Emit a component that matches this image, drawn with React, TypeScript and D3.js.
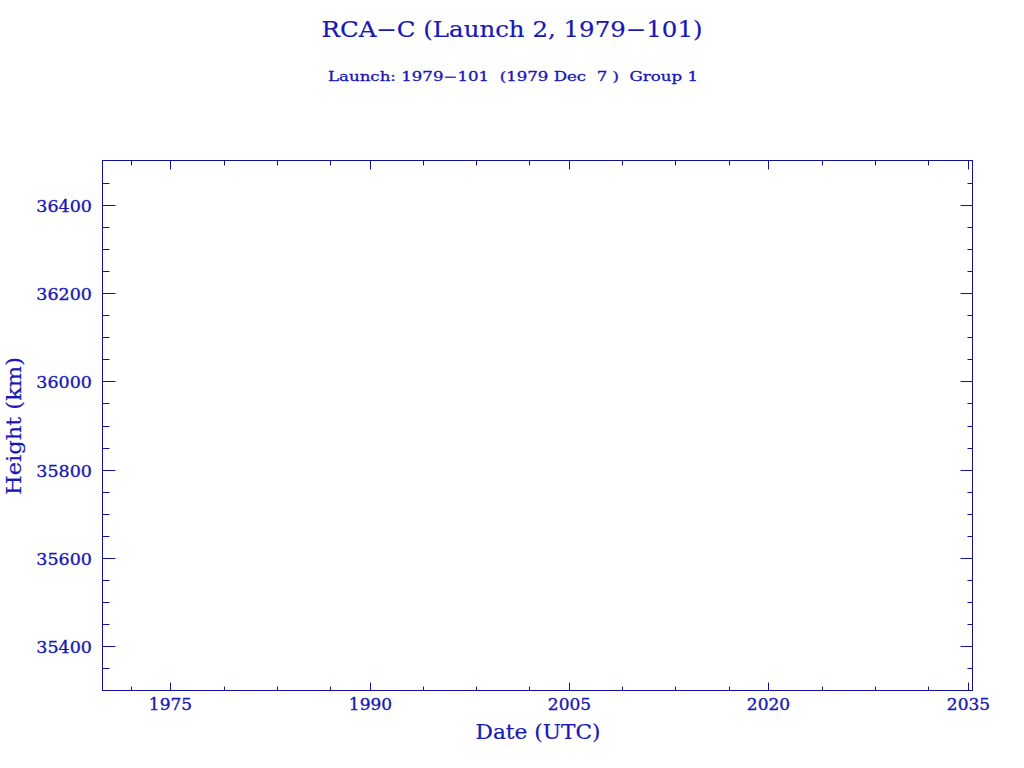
import React from "react";
import * as d3 from "d3";

const title = "RCA\u2212C (Launch 2, 1979\u2212101)";
const subtitle = "Launch: 1979\u2212101  (1979 Dec  7 )  Group 1";
const xLabel = "Date (UTC)";
const yLabel = "Height (km)";

const xDomain = [1969.89, 2035.35];
const yDomain = [35300, 36500];
const xMajorTicks = [1975, 1990, 2005, 2020, 2035];
const xMinorOffsets = [4, 8, 12];
const yMajorTicks = [35400, 35600, 35800, 36000, 36200, 36400];
const yMinorStep = 50;
// No orbital height data points are plotted in the reference.
const heightData: { year: number; height: number }[] = [];

const W = 1024;
const H = 768;
const L = 102.5;
const R = 972.5;
const T = 160.5;
const B = 690.5;
const lineColor = "#11119c";
const textColor = "#1818b4";
const font = "'DejaVu Serif', serif";

export default function App() {
  const x = d3.scaleLinear().domain(xDomain).range([L, R]);
  const y = d3.scaleLinear().domain(yDomain).range([B, T]);

  const xMinor: number[] = [];
  for (let m = 1960; m <= 2040; m += 15) {
    for (const o of xMinorOffsets) {
      const v = m + o;
      if (v > xDomain[0] && v < xDomain[1]) xMinor.push(v);
    }
  }
  const yMinor: number[] = [];
  for (let v = yDomain[0]; v <= yDomain[1]; v += yMinorStep) {
    if (!yMajorTicks.includes(v) && v > yDomain[0] && v < yDomain[1]) yMinor.push(v);
  }

  const line = d3
    .line<{ year: number; height: number }>()
    .x((d) => x(d.year))
    .y((d) => y(d.height));

  const txt = { fontFamily: font, fill: textColor, stroke: textColor, strokeWidth: 0.35 };

  return (
    <svg width={W} height={H} style={{ position: "absolute", left: 0, top: 0, background: "#fff" }}>
      <rect x={0} y={0} width={W} height={H} fill="#fff" />
      <text x={512} y={37} textAnchor="middle" fontSize={22} {...txt} strokeWidth={0.2}
        textLength={381} lengthAdjust="spacingAndGlyphs">{title}</text>
      <text x={513} y={81} textAnchor="middle" fontSize={12.5} {...txt} strokeWidth={0.3}
        textLength={370} lengthAdjust="spacingAndGlyphs" style={{ whiteSpace: "pre" }}>{subtitle}</text>

      <rect x={L} y={T} width={R - L} height={B - T} fill="none" stroke={lineColor} strokeWidth={1} />

      {heightData.length > 0 && <path d={line(heightData) || ""} fill="none" stroke={lineColor} />}

      {xMajorTicks.map((v) => {
        const px = Math.round(x(v)) + 0.5;
        return (
          <g key={"xM" + v}>
            <line x1={px} x2={px} y1={B} y2={B - 8} stroke={lineColor} />
            <line x1={px} x2={px} y1={T} y2={T + 9} stroke={lineColor} />
            <text x={px} y={710} textAnchor="middle" fontSize={17} {...txt}>{v}</text>
          </g>
        );
      })}
      {xMinor.map((v) => {
        const px = Math.round(x(v)) + 0.5;
        return (
          <g key={"xm" + v}>
            <line x1={px} x2={px} y1={B} y2={B - 4} stroke={lineColor} />
            <line x1={px} x2={px} y1={T} y2={T + 5} stroke={lineColor} />
          </g>
        );
      })}
      {yMajorTicks.map((v) => {
        const py = Math.round(y(v)) + 0.5;
        return (
          <g key={"yM" + v}>
            <line x1={L} x2={L + 13} y1={py} y2={py} stroke={lineColor} />
            <line x1={R} x2={R - 12} y1={py} y2={py} stroke={lineColor} />
            <text x={92} y={py + 6.5} textAnchor="end" fontSize={17.5} {...txt}>{v}</text>
          </g>
        );
      })}
      {yMinor.map((v) => {
        const py = Math.round(y(v)) + 0.5;
        return (
          <g key={"ym" + v}>
            <line x1={L} x2={L + 7} y1={py} y2={py} stroke={lineColor} />
            <line x1={R} x2={R - 5} y1={py} y2={py} stroke={lineColor} />
          </g>
        );
      })}

      <text x={538} y={739} textAnchor="middle" fontSize={20} {...txt} strokeWidth={0.2}
        textLength={125} lengthAdjust="spacingAndGlyphs">{xLabel}</text>
      <text transform="translate(21,426) rotate(-90)" textAnchor="middle" fontSize={20}
        {...txt} strokeWidth={0.2} textLength={138} lengthAdjust="spacingAndGlyphs">{yLabel}</text>
    </svg>
  );
}
